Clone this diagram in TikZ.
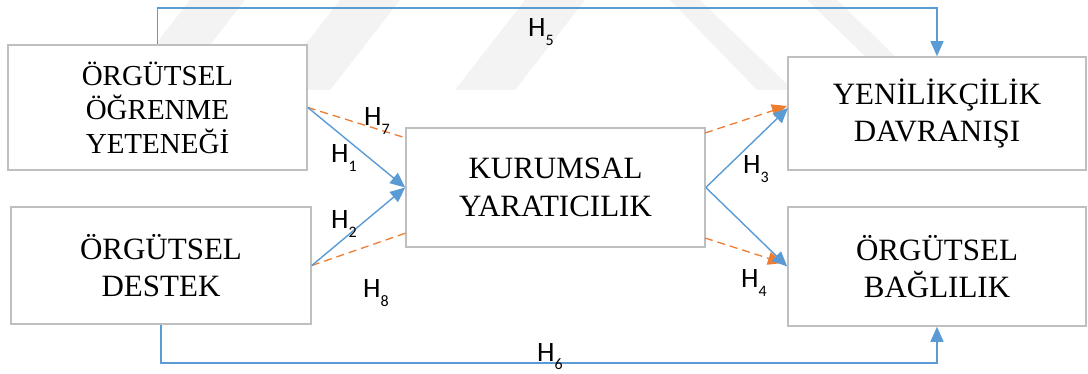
\documentclass[tikz,border=0pt]{standalone}
\usepackage{fontspec}
\setmainfont{Liberation Serif}
\newfontfamily\labelfont{Carlito}
\usetikzlibrary{arrows.meta}
\definecolor{boxgray}{RGB}{191,191,191}
\definecolor{linkblue}{RGB}{91,155,213}
\definecolor{linkorange}{RGB}{237,125,49}
\definecolor{markgray}{RGB}{243,243,243}
\newcommand{\hyp}[1]{H\lower9pt\hbox{\fontsize{16}{16}\selectfont #1}}
\begin{document}
\begin{tikzpicture}[x=1pt,y=-1pt,
  box/.style={draw=boxgray,line width=1.6pt,fill=white,align=center,inner sep=0pt},
  bigtext/.style={font=\fontsize{31}{37.5}\selectfont},
  link/.style={draw=linkblue,line width=1.4pt,-{Triangle[length=15pt,width=13pt]}},
  alt/.style={draw=linkorange,line width=1.3pt,dash pattern=on 8pt off 5pt},
  altarrow/.style={alt,-{Triangle[length=15pt,width=13pt]}},
  hlabel/.style={font=\labelfont\fontsize{28}{28}\selectfont,inner sep=0pt,anchor=base west}
]
\useasboundingbox[fill=white] (0,0) rectangle (1088,374);

% faint background stripes
\fill[markgray] (120,90) -- (190,0) -- (245,0) -- (175,90) -- cycle;
\fill[markgray] (270,90) -- (340,0) -- (400,0) -- (330,90) -- cycle;
\fill[markgray] (455,90) -- (525,0) -- (585,0) -- (515,90) -- cycle;
\fill[markgray] (670,0) -- (700,0) -- (793,90) -- (757,90) -- cycle;
\fill[markgray] (807,0) -- (837,0) -- (930,90) -- (900,90) -- cycle;

% boxes
\node[box,minimum width=299pt,minimum height=125pt,font=\fontsize{29}{34}\selectfont] (A) at (157.5,107.5) {ÖRGÜTSEL\\ÖĞRENME\\YETENEĞİ};
\node[box,bigtext,minimum width=300pt,minimum height=117pt] (B) at (161,265.5) {ÖRGÜTSEL\\DESTEK};
\node[box,bigtext,minimum width=299pt,minimum height=119pt] (C) at (555.5,187.5) {KURUMSAL\\YARATICILIK};
\node[box,bigtext,minimum width=298pt,minimum height=113pt] (D) at (937,113.5) {YENİLİKÇİLİK\\DAVRANIŞI};
\node[box,bigtext,minimum width=298pt,minimum height=119pt] (E) at (937,266.5) {ÖRGÜTSEL\\BAĞLILIK};

% connector ends
\coordinate (top) at (937,8);
\coordinate (bot) at (937,363);
\coordinate (c7) at (406,138);
\coordinate (c8) at (406,233);
\coordinate (co1) at (705,133);
\coordinate (co2) at (705,238);
\coordinate (d3) at (788,108);
\coordinate (d3o) at (787,106);
\coordinate (e4o) at (783,263);

% dashed links
\draw[alt] (A.east) -- (c7);
\draw[alt] (B.east) -- (c8);
\draw[altarrow] (co1) -- (d3o);
\draw[altarrow] (co2) -- (e4o);

% solid links
\draw[link] (A.north) |- (top) -- (D.north);
\draw[link] (B.south) |- (bot) -- (E.south);
\draw[link] (A.east) -- (C.west);
\draw[link] (B.east) -- (C.west);
\draw[link] (C.east) -- (d3);
\draw[link] (C.east) -- (E.west);

% hypothesis labels
\node[hlabel] (h5) at (528,37) {\hyp{5}};
\node[hlabel] (h7) at (364,126) {\hyp{7}};
\node[hlabel] (h1) at (331,163) {\hyp{1}};
\node[hlabel] (h2) at (331,229) {\hyp{2}};
\node[hlabel] (h8) at (363,298) {\hyp{8}};
\node[hlabel] (h3) at (743,174) {\hyp{3}};
\node[hlabel] (h4) at (741,288) {\hyp{4}};
\node[hlabel] (h6) at (537,361) {\hyp{6}};
\end{tikzpicture}
\end{document}
